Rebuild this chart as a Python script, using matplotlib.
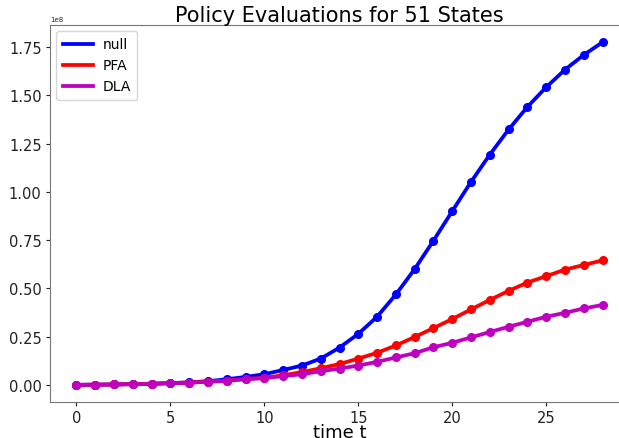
import numpy as np
import matplotlib
matplotlib.use('Agg')
import matplotlib.pyplot as plt

# ── Datos (en unidades de 1e8) ────────────────────────────────────────────────
t = np.arange(29)
null_vals = [0.000, 0.001, 0.002, 0.004, 0.006, 0.009, 0.013, 0.019, 0.029, 0.041,
             0.055, 0.077, 0.100, 0.136, 0.193, 0.264, 0.353, 0.468, 0.600, 0.747,
             0.900, 1.052, 1.193, 1.323, 1.440, 1.542, 1.633, 1.709, 1.775]
pfa_vals = [0.000, 0.001, 0.002, 0.004, 0.006, 0.009, 0.012, 0.017, 0.022, 0.031,
            0.036, 0.050, 0.066, 0.086, 0.108, 0.136, 0.166, 0.204, 0.248, 0.294,
            0.341, 0.391, 0.440, 0.487, 0.530, 0.563, 0.597, 0.621, 0.645]
dla_vals = [0.000, 0.001, 0.002, 0.003, 0.005, 0.008, 0.011, 0.016, 0.021, 0.029,
            0.035, 0.045, 0.055, 0.071, 0.084, 0.100, 0.119, 0.142, 0.164, 0.195,
            0.218, 0.246, 0.274, 0.301, 0.327, 0.353, 0.373, 0.396, 0.414]
series = [('null', null_vals, (0, 0, 1)),
          ('PFA', pfa_vals, (1, 0, 0)),
          ('DLA', dla_vals, (0.75, 0, 0.75))]

fig = plt.figure(figsize=(6.19, 4.39), dpi=100)
ax = fig.add_axes([50 / 619, 1 - 403 / 439, 579 / 619, 377 / 439])

for nombre, vals, color in series:
    y = np.array(vals) * 1e8
    ax.plot(t, y, '-', color=color, lw=2.7, label=nombre)
    ax.plot(t, y, 'o', color=color, ms=5.5)

ax.set_title('Policy Evaluations for 51 States', fontsize=15, pad=3)
ax.set_xlabel('time t', fontsize=13, labelpad=-2)
ax.tick_params(labelsize=10.5, length=3, pad=3, colors='#222222')
ax.yaxis.get_offset_text().set_fontsize(5)
for s in ax.spines.values():
    s.set_color('#777777')
ax.legend(loc='upper left', fontsize=10, handlelength=2.2, borderpad=0.45,
          handletextpad=0.7, labelspacing=0.5, borderaxespad=0.45)

fig.savefig('out.png', dpi=100)
